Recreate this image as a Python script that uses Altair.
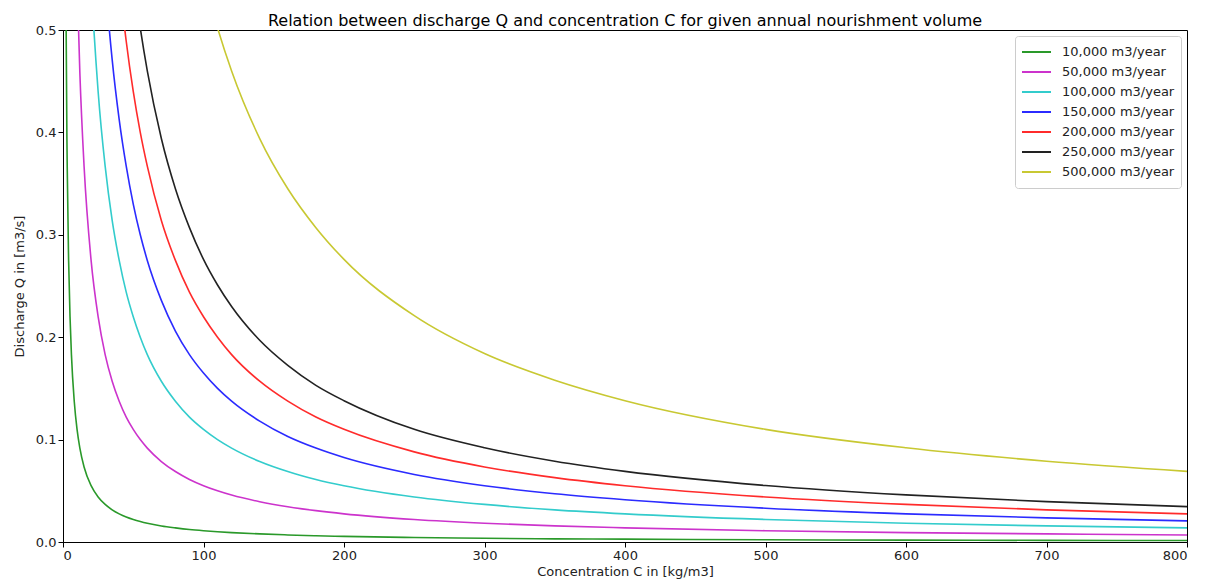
import altair as alt
import pandas as pd

# Concentration C [kg/m3] sample positions
conc = [1, 2, 3, 4, 5, 6, 8, 10, 12, 15, 20, 25, 30, 35, 40, 45, 50, 55, 60, 70, 80, 90,
        100, 110, 120, 140, 160, 180, 200, 250, 300, 350, 400, 500, 600, 700, 800]

N = None
q_10k = [1.1, 0.55, 0.367, 0.275, 0.22, 0.183, 0.1375, 0.11, 0.0917, 0.0733, 0.055, 0.044, 0.0367,
         0.0314, 0.0275, 0.0244, 0.022, 0.02, 0.0183, 0.0157, 0.0138, 0.0122, 0.011, 0.01, 0.0092,
         0.0079, 0.0069, 0.0061, 0.0055, 0.0044, 0.0037, 0.0031, 0.0028, 0.0022, 0.0018, 0.0016, 0.0014]
q_50k = [N, N, N, N, N, N, 0.6875, 0.55, 0.458, 0.367, 0.275, 0.22, 0.183, 0.157, 0.1375, 0.122,
         0.11, 0.1, 0.0917, 0.0786, 0.0688, 0.0611, 0.055, 0.05, 0.0458, 0.0393, 0.0344, 0.0306,
         0.0275, 0.022, 0.0183, 0.0157, 0.0138, 0.011, 0.0092, 0.0079, 0.0069]
q_100k = [N, N, N, N, N, N, N, N, N, 0.733, 0.55, 0.44, 0.367, 0.314, 0.275, 0.244, 0.22, 0.2,
          0.183, 0.157, 0.1375, 0.122, 0.11, 0.1, 0.0917, 0.0786, 0.0688, 0.0611, 0.055, 0.044,
          0.0367, 0.0314, 0.0275, 0.022, 0.0183, 0.0157, 0.01375]
q_150k = [N, N, N, N, N, N, N, N, N, N, N, 0.66, 0.55, 0.471, 0.4125, 0.367, 0.33, 0.3, 0.275,
          0.236, 0.206, 0.183, 0.165, 0.15, 0.1375, 0.118, 0.103, 0.0917, 0.0825, 0.066, 0.055,
          0.0471, 0.0413, 0.033, 0.0275, 0.0236, 0.0206]
q_200k = [N, N, N, N, N, N, N, N, N, N, N, N, N, 0.629, 0.55, 0.489, 0.44, 0.4, 0.367, 0.314,
          0.275, 0.244, 0.22, 0.2, 0.183, 0.157, 0.1375, 0.122, 0.11, 0.088, 0.0733, 0.0629,
          0.055, 0.044, 0.0367, 0.0314, 0.0275]
q_250k = [N, N, N, N, N, N, N, N, N, N, N, N, N, N, N, 0.613, 0.552, 0.502, 0.46, 0.394, 0.345,
          0.307, 0.276, 0.251, 0.23, 0.197, 0.1725, 0.153, 0.138, 0.11, 0.092, 0.0789, 0.069,
          0.0552, 0.046, 0.0394, 0.0345]
q_500k = [N, N, N, N, N, N, N, N, N, N, N, N, N, N, N, N, N, N, N, N, 0.69, 0.613, 0.552, 0.502,
          0.46, 0.394, 0.345, 0.307, 0.276, 0.221, 0.184, 0.158, 0.138, 0.11, 0.092, 0.0789, 0.069]

labels = ["10,000 m3/year", "50,000 m3/year", "100,000 m3/year", "150,000 m3/year",
          "200,000 m3/year", "250,000 m3/year", "500,000 m3/year"]
colors = ["#2a992a", "#cc33cc", "#33cccc", "#2b2bff", "#ff2b2b", "#222222", "#c8c832"]
series = [q_10k, q_50k, q_100k, q_150k, q_200k, q_250k, q_500k]

rows = []
for lab, vals in zip(labels, series):
    for c, q in zip(conc, vals):
        if q is not None:
            rows.append({"C": c, "Q": q, "volume": lab})
df = pd.DataFrame(rows)

FS = 13
chart = alt.Chart(df).mark_line(clip=True, interpolate="monotone", strokeWidth=1.6).encode(
    x=alt.X("C:Q", title="Concentration C in [kg/m3]",
            scale=alt.Scale(domain=[0, 800], nice=False, zero=False),
            axis=alt.Axis(values=[0, 100, 200, 300, 400, 500, 600, 700, 800], format="d",
                          grid=False, tickColor="black", domainColor="black", labelColor="#222",
                          labelFontSize=FS, titleFontSize=FS, titleFontWeight="normal",
                          titleColor="#222", labelFont="DejaVu Sans", titleFont="DejaVu Sans",
                          titlePadding=3)),
    y=alt.Y("Q:Q", title="Discharge Q in [m3/s]",
            scale=alt.Scale(domain=[0, 0.5], nice=False),
            axis=alt.Axis(values=[0, 0.1, 0.2, 0.3, 0.4, 0.5], format=".1f",
                          grid=False, tickColor="black", domainColor="black", labelColor="#222",
                          labelFontSize=FS, titleFontSize=FS, titleFontWeight="normal",
                          titleColor="#222", labelFont="DejaVu Sans", titleFont="DejaVu Sans",
                          titlePadding=9)),
    color=alt.Color("volume:N", sort=labels,
                    scale=alt.Scale(domain=labels, range=colors),
                    legend=alt.Legend(title=None, orient="top-right", offset=6,
                                      symbolType="stroke", symbolSize=841, symbolStrokeWidth=2,
                                      clipHeight=20, rowPadding=0,
                                      labelFontSize=FS, labelFont="DejaVu Sans", labelColor="#222",
                                      strokeColor="#cccccc", padding=6, cornerRadius=3,
                                      fillColor="white", labelOffset=10)),
).properties(
    width=1124, height=512,
    title=alt.Title("Relation between discharge Q and concentration C for given annual nourishment volume",
                    fontSize=16, fontWeight="normal", font="DejaVu Sans", color="black", offset=-5),
).configure_view(stroke="black", strokeWidth=1)

chart.save("out.html", embed_options={"renderer": "svg", "actions": False})
